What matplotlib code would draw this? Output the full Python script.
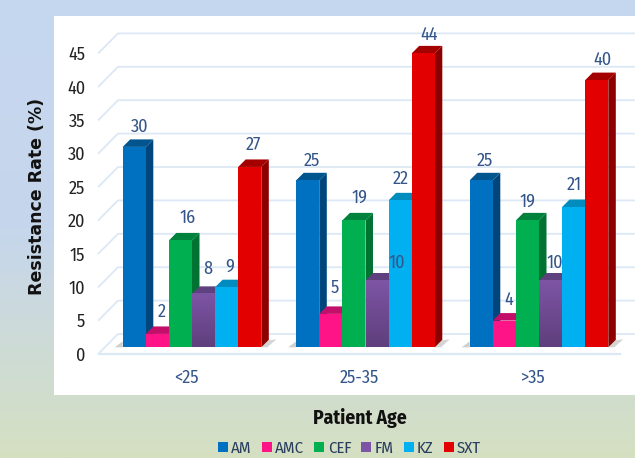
import matplotlib
matplotlib.use("Agg")
import matplotlib.pyplot as plt
import matplotlib.transforms as mtrans
from matplotlib.colors import LinearSegmentedColormap
from matplotlib.patches import Polygon, Patch
import numpy as np

# data
age_groups = ["<25", "25-35", ">35"]
drugs = ["AM", "AMC", "CEF", "FM", "KZ", "SXT"]
am = [30, 25, 25]
amc = [2, 5, 4]
cef = [16, 19, 19]
fm = [8, 10, 10]
kz = [9, 22, 21]
sxt = [27, 44, 40]
y_ticks = [0, 5, 10, 15, 20, 25, 30, 35, 40, 45]

series = [am, amc, cef, fm, kz, sxt]

# colours: front, side, top
front_cols = ["#0070c0", "#ff1488", "#00b050", "#7d55a5", "#00b0f0", "#e30000"]
side_cols = ["#00467d", "#a00c68", "#007332", "#5f3f80", "#0082b4", "#8c0000"]
top_cols = ["#00558f", "#c30f69", "#00823c", "#5f4180", "#008cbe", "#a50000"]

# label nudges in pixels from the middle of the bar top, same order as series
label_dx = [[5, 4, 4], [4, 4, 4], [7, 6, 0], [4, 20, 4], [3, 1, 1], [4, 6, 6]]
label_dy = [[20, 19, 19], [22, 26, 21], [23, 23, 19], [25, 18, 18], [21, 22, 22], [22, 19, 20]]

PX_Y = 6.68     # pixels per percent
PX_X = 173.5    # pixels per age group
bar_w = 23.1 / PX_X
depth_x = 7.5 / PX_X
depth_y = 7.5 / PX_Y

fig = plt.figure(figsize=(6.35, 4.58), dpi=100)

# gradient behind everything
bg = fig.add_axes([0, 0, 1, 1])
bg_map = LinearSegmentedColormap.from_list("bg", ["#c5d7f0", "#c6d6ec", "#d5e0c2"])
bg.imshow(np.linspace(0, 1, 256).reshape(-1, 1), aspect="auto", cmap=bg_map, extent=[0, 1, 0, 1])
bg.axis("off")

# white panel is the plot axes
ax = fig.add_axes([54 / 635, 1 - 395 / 458, (635 - 54) / 635, (395 - 16) / 458])
ax.set_facecolor("white")
for s in ax.spines.values():
    s.set_visible(False)

# back wall and floor lines
grid_col = "#dce8f5"
back_y = 13.3 / PX_Y
front_y = -6.2 / PX_Y
x_front = (98.7 - 192) / PX_X
x_back = (118 - 192) / PX_X
x_right = (635 - 192) / PX_X
x_floor_end = (620 - 192) / PX_X
for t in y_ticks:
    ax.plot([x_front, x_back, x_right], [t + front_y, t + back_y, t + back_y],
            color=grid_col, lw=1.3, zorder=1)
ax.plot([x_front, x_floor_end], [front_y, front_y], color=grid_col, lw=1.6, zorder=1)

offs = np.arange(len(drugs)) - 2.5
for g in range(len(age_groups)):
    left_edge = g + offs[0] * bar_w - bar_w / 2
    right_edge = g + offs[-1] * bar_w + bar_w / 2
    # floor shadows
    ax.add_patch(Polygon([(left_edge - 8 / PX_X, 0), (left_edge, 6 / PX_Y), (left_edge, 0)],
                         fc="#b0b0b0", alpha=0.6, ec="none", zorder=1.5))
    ax.add_patch(Polygon([(right_edge, 0), (right_edge + 7 / PX_X, 7 / PX_Y),
                          (right_edge + 15 / PX_X, 8 / PX_Y), (right_edge + 6 / PX_X, 0)],
                         fc="#b8b8b8", alpha=0.6, ec="none", zorder=1.5))
    z = 2
    for d in range(len(drugs)):
        v = series[d][g]
        x0 = g + offs[d] * bar_w - bar_w / 2
        x1 = x0 + bar_w
        ax.add_patch(Polygon([(x1, 0), (x1 + depth_x, depth_y), (x1 + depth_x, v + depth_y), (x1, v)],
                             fc=side_cols[d], ec="none", zorder=z))
        ax.add_patch(Polygon([(x0, v), (x0 + depth_x, v + depth_y), (x1 + depth_x, v + depth_y), (x1, v)],
                             fc=top_cols[d], ec="none", zorder=z))
        if drugs[d] == "FM":
            fm_map = LinearSegmentedColormap.from_list("fm", ["#5f3f7c", "#7d55a5"])
            ax.imshow(np.linspace(1, 0, 64).reshape(-1, 1), cmap=fm_map, aspect="auto",
                      extent=[x0, x1, 0, v], zorder=z + 0.1)
        else:
            ax.bar(x0 + bar_w / 2, v, bar_w, color=front_cols[d], zorder=z + 0.1)
        z += 1

# imshow resets the limits
ax.set_xlim((54 - 192) / PX_X, (635 - 192) / PX_X)
ax.set_ylim((347.3 - 395) / PX_Y, (347.3 - 16) / PX_Y)

narrow = ["Fira Sans Condensed", "Lato", "DejaVu Sans"]
for d in range(len(drugs)):
    for g in range(len(age_groups)):
        xc = g + offs[d] * bar_w
        ax.annotate(str(series[d][g]), (xc, series[d][g]),
                    xytext=(label_dx[d][g] * 0.72, label_dy[d][g] * 0.72),
                    textcoords="offset points", ha="center", va="center",
                    fontsize=13, family=narrow, color="#33558a", zorder=20)

# ticks, pushed inside the panel
ax.set_yticks(y_ticks)
ax.set_yticklabels([str(t) for t in y_ticks], fontsize=13, family=narrow, color="#222222")
ax.tick_params(axis="y", length=0, pad=-22.5)
shift = mtrans.ScaledTranslation(0, -6.5 / 100, fig.dpi_scale_trans)
for lab in ax.get_yticklabels():
    lab.set_transform(lab.get_transform() + shift)

ax.set_xticks(range(len(age_groups)))
ax.set_xticklabels(age_groups, fontsize=13, family=narrow, color="#33558a")
ax.tick_params(axis="x", length=0, pad=-19)
shift2 = mtrans.ScaledTranslation(-6 / 100, 0, fig.dpi_scale_trans)
for lab in ax.get_xticklabels():
    lab.set_transform(lab.get_transform() + shift2)

fig.text(37 / 635, 1 - 196 / 458, "Resistance Rate (%)", rotation=90, ha="center", va="center",
         fontsize=12.5, fontweight="bold", family=["DejaVu Sans"], color="#111111")
fig.text(360 / 635, 1 - 418 / 458, "Patient Age", ha="center", va="center",
         fontsize=14, fontweight="bold", family=narrow, color="#111111")

handles = [Patch(fc=c, ec="none") for c in front_cols]
fig.legend(handles, drugs, loc="center", bbox_to_anchor=(349.5 / 635, 1 - 448 / 458), ncol=6,
           frameon=False, handlelength=0.6, handleheight=0.6, handletextpad=0.2,
           columnspacing=0.6, borderpad=0, prop={"family": narrow, "size": 12},
           labelcolor="#2a3f60")

plt.savefig("out.png", dpi=100)
